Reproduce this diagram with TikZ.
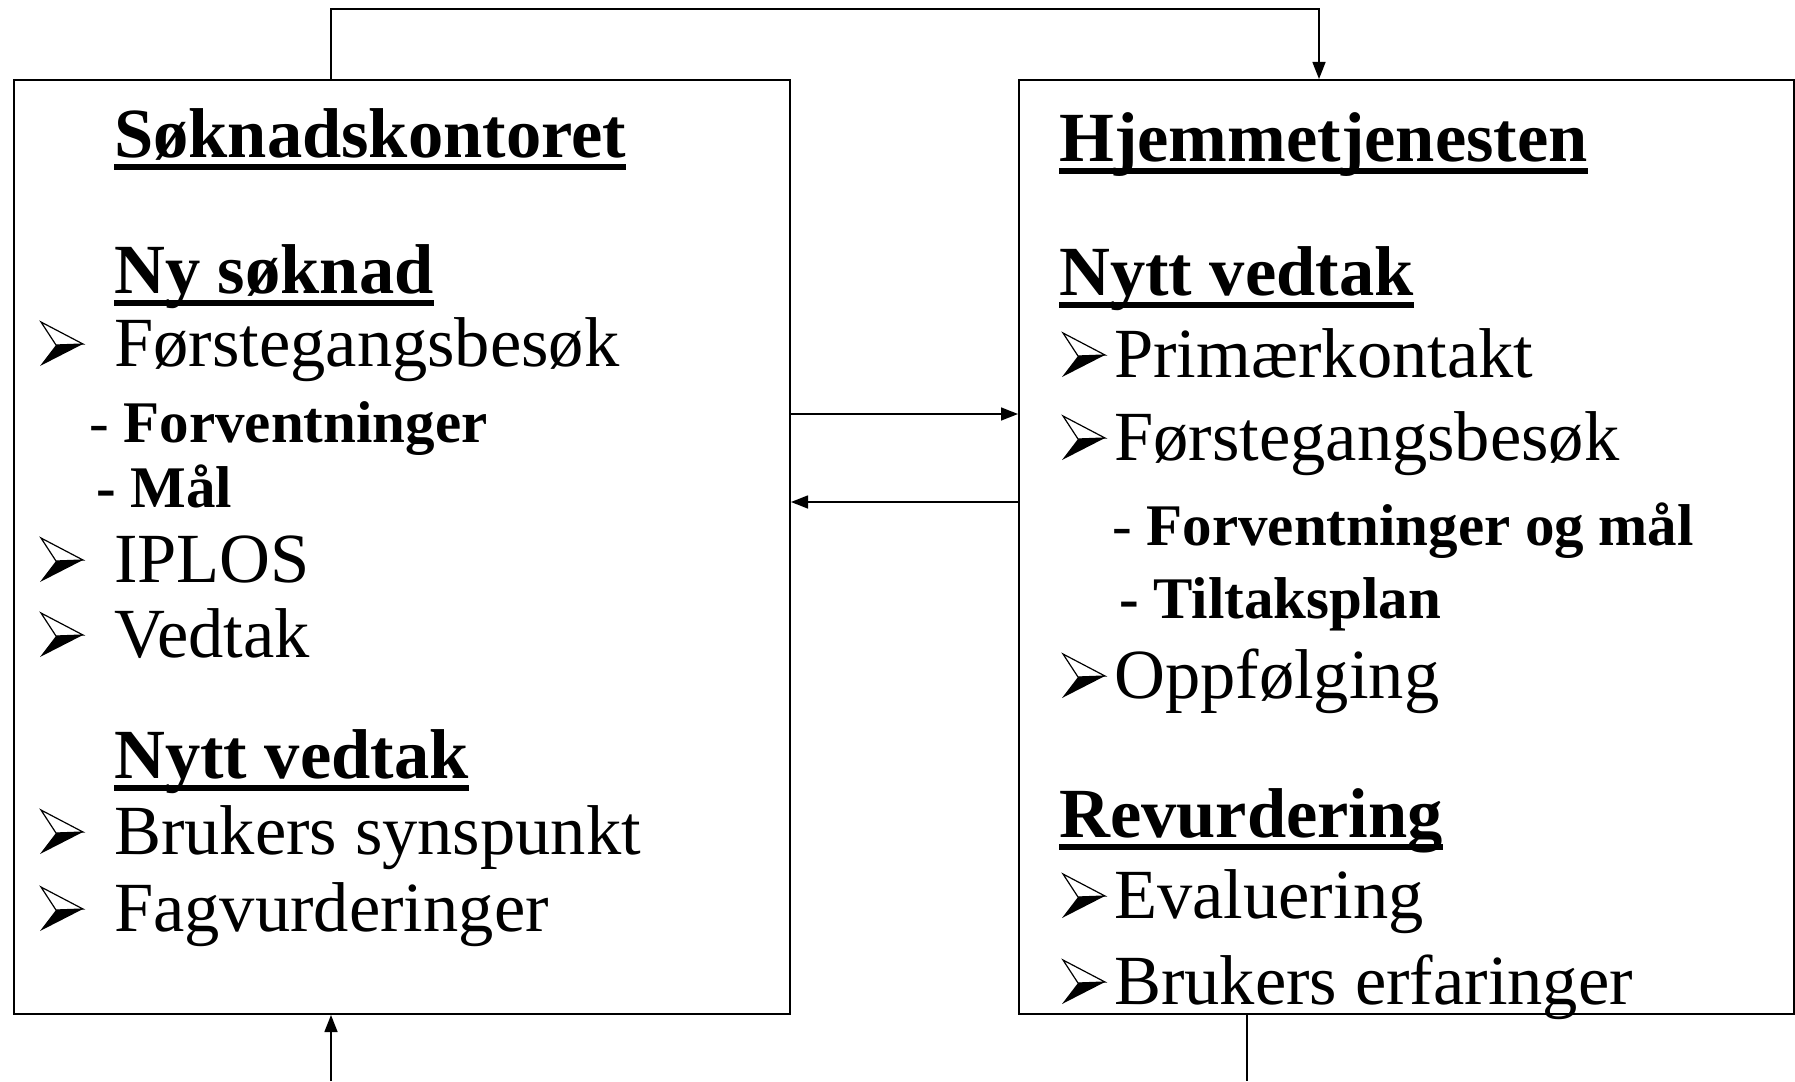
\documentclass[tikz,border=0pt]{standalone}
\usepackage{fontspec}
\setmainfont{Liberation Serif}
\usetikzlibrary{arrows.meta}
\tikzset{
  boxst/.style={draw, line width=2pt, inner sep=0pt, minimum width=776pt, minimum height=934pt},
  headst/.style={anchor=base west, inner sep=0pt, font=\fontsize{70.5}{84}\selectfont\bfseries},
  itemst/.style={anchor=base west, inner sep=0pt, font=\fontsize{70.5}{84}\selectfont},
  subst/.style={anchor=base west, inner sep=0pt, font=\fontsize{59}{70}\selectfont\bfseries},
  conn/.style={line width=1.5pt},
  arr/.style={conn, -{Triangle[length=17pt,width=13pt]}},
  bul/.pic={
    \fill[black] (16,-21) -- (43,-22) -- (0,0) -- cycle;
    \draw[line width=1.2pt, line join=miter] (16,-21) -- (1,-44) -- (43,-22) -- cycle;
  }
}
\newcommand\headul[1]{\fill ([yshift=-7pt]#1.base west) rectangle ([yshift=-13pt]#1.base east);}
\begin{document}
\begin{tikzpicture}[x=1pt,y=-1pt]
\useasboundingbox (0,0) rectangle (1795,1081);
\fill[white] (0,0) rectangle (1795,1081);

% boxes
\node[boxst] (L) at (402,547) {};
\node[boxst, minimum width=775pt] (R) at (1406.5,547) {};

% left box contents
\node[headst] (lh) at (114,157) {Søknadskontoret}; \headul{lh}
\node[headst] (lny) at (114,293) {Ny søknad}; \headul{lny}
\pic at (40,366) {bul};
\node[itemst] (lf) at (114,366) {Førstegangsbesøk};
\node[subst] (lfv) at (89,442) {{\mdseries -} Forventninger};
\node[subst] (lm) at (96,507) {- Mål};
\pic at (40,582) {bul};
\node[itemst] (li) at (114,582) {IPLOS};
\pic at (40,657) {bul};
\node[itemst] (lv) at (114,657) {Vedtak};
\node[headst] (lnv) at (114,778) {Nytt vedtak}; \headul{lnv}
\pic at (40,854) {bul};
\node[itemst] (lb) at (114,854) {Brukers synspunkt};
\pic at (40,931) {bul};
\node[itemst] (lfa) at (114,931) {Fagvurderinger};

% right box contents
\node[headst] (rh) at (1059,161) {Hjemmetjenesten}; \headul{rh}
\node[headst] (rnv) at (1059,295) {Nytt vedtak}; \headul{rnv}
\pic at (1062,377) {bul};
\node[itemst] (rp) at (1114,377) {Primærkontakt};
\pic at (1062,460) {bul};
\node[itemst] (rf) at (1114,460) {Førstegangsbesøk};
\node[subst] (rfv) at (1112,545) {{\mdseries -} Forventninger og mål};
\node[subst] (rt) at (1119,618) {- Tiltaksplan};
\pic at (1062,698) {bul};
\node[itemst] (ro) at (1114,698) {Oppfølging};
\node[headst] (rr) at (1059,837) {Revurdering}; \headul{rr}
\pic at (1062,918) {bul};
\node[itemst] (re) at (1114,918) {Evaluering};
\pic at (1062,1004) {bul};
\node[itemst] (rb) at (1114,1004) {Brukers erfaringer};

% connectors
\coordinate (t1) at (331,9);
\coordinate (t2) at (1319,9);
\draw[arr] (L.north -| t1) -- (t1) -- (t2) -- (R.north -| t2);
\coordinate (m1) at (0,414);
\coordinate (m2) at (0,502);
\draw[arr] (L.east |- m1) -- (R.west |- m1);
\draw[arr] (R.west |- m2) -- (L.east |- m2);
\coordinate (b1) at (331,1081);
\coordinate (b2) at (1247,1081);
\draw[arr] (b1) -- (L.south -| b1);
\draw[conn] (R.south -| b2) -- (b2);
\end{tikzpicture}
\end{document}
